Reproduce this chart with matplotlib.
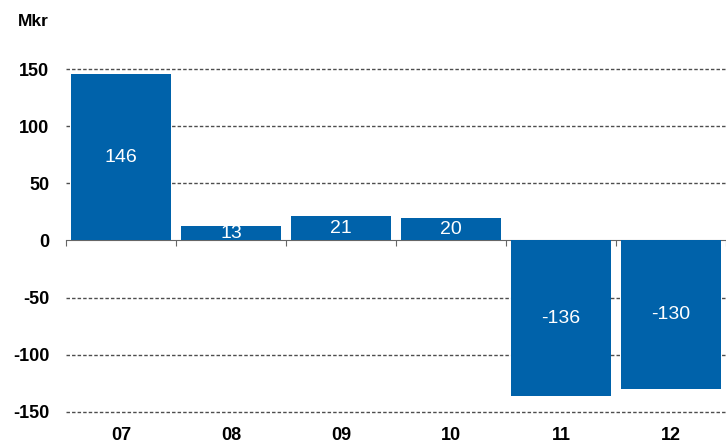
import matplotlib.pyplot as plt
import matplotlib.transforms as mtransforms

plt.rcParams['font.family'] = ['Liberation Sans', 'DejaVu Sans']

years = ['07', '08', '09', '10', '11', '12']
values = [146, 13, 21, 20, -136, -130]
yticks = [-150, -100, -50, 0, 50, 100, 150]

bar_color = '#0062AA'

fig = plt.figure(figsize=(7.26, 4.44), dpi=100)
ax = fig.add_axes([66 / 726, 26.3 / 444, 1 - 66 / 726, 354.4 / 444])

x = list(range(len(years)))
ax.bar(x, values, width=0.91, color=bar_color, zorder=3)

for xi, v in zip(x, values):
    ax.text(xi, v / 2, str(v), ha='center', va='center', color='white',
            fontsize=14, zorder=4)

# dashed grid lines
for t in yticks:
    if t != 0:
        ax.axhline(t, color='#4d4d4d', lw=1.0, ls=(0, (2.5, 1.5)), zorder=1)

ax.set_xlim(-0.5, 5.46)
ax.set_ylim(-155, 155)

for s in ['top', 'right', 'left']:
    ax.spines[s].set_visible(False)
ax.spines['bottom'].set_position(('data', 0))
ax.spines['bottom'].set_color('#666666')
ax.spines['bottom'].set_zorder(2)

ax.set_xticks([i - 0.5 for i in range(len(years) + 1)])
ax.set_xticklabels([])
ax.tick_params(axis='x', direction='out', length=4, color='#666666')

ax.set_yticks(yticks)
ax.set_yticklabels([str(t) for t in yticks], fontsize=13, fontweight='bold')
ax.tick_params(axis='y', length=0, pad=12)

trans = mtransforms.blended_transform_factory(ax.transData, fig.transFigure)
for xi, lab in zip(x, years):
    ax.text(xi, 1 - 435 / 444, lab, transform=trans, ha='center', va='center',
            fontsize=13, fontweight='bold')

fig.text(18 / 726, 1 - 21 / 444, 'Mkr', fontsize=12.5, fontweight='bold',
         ha='left', va='center')

fig.savefig('out.png', dpi=100)
